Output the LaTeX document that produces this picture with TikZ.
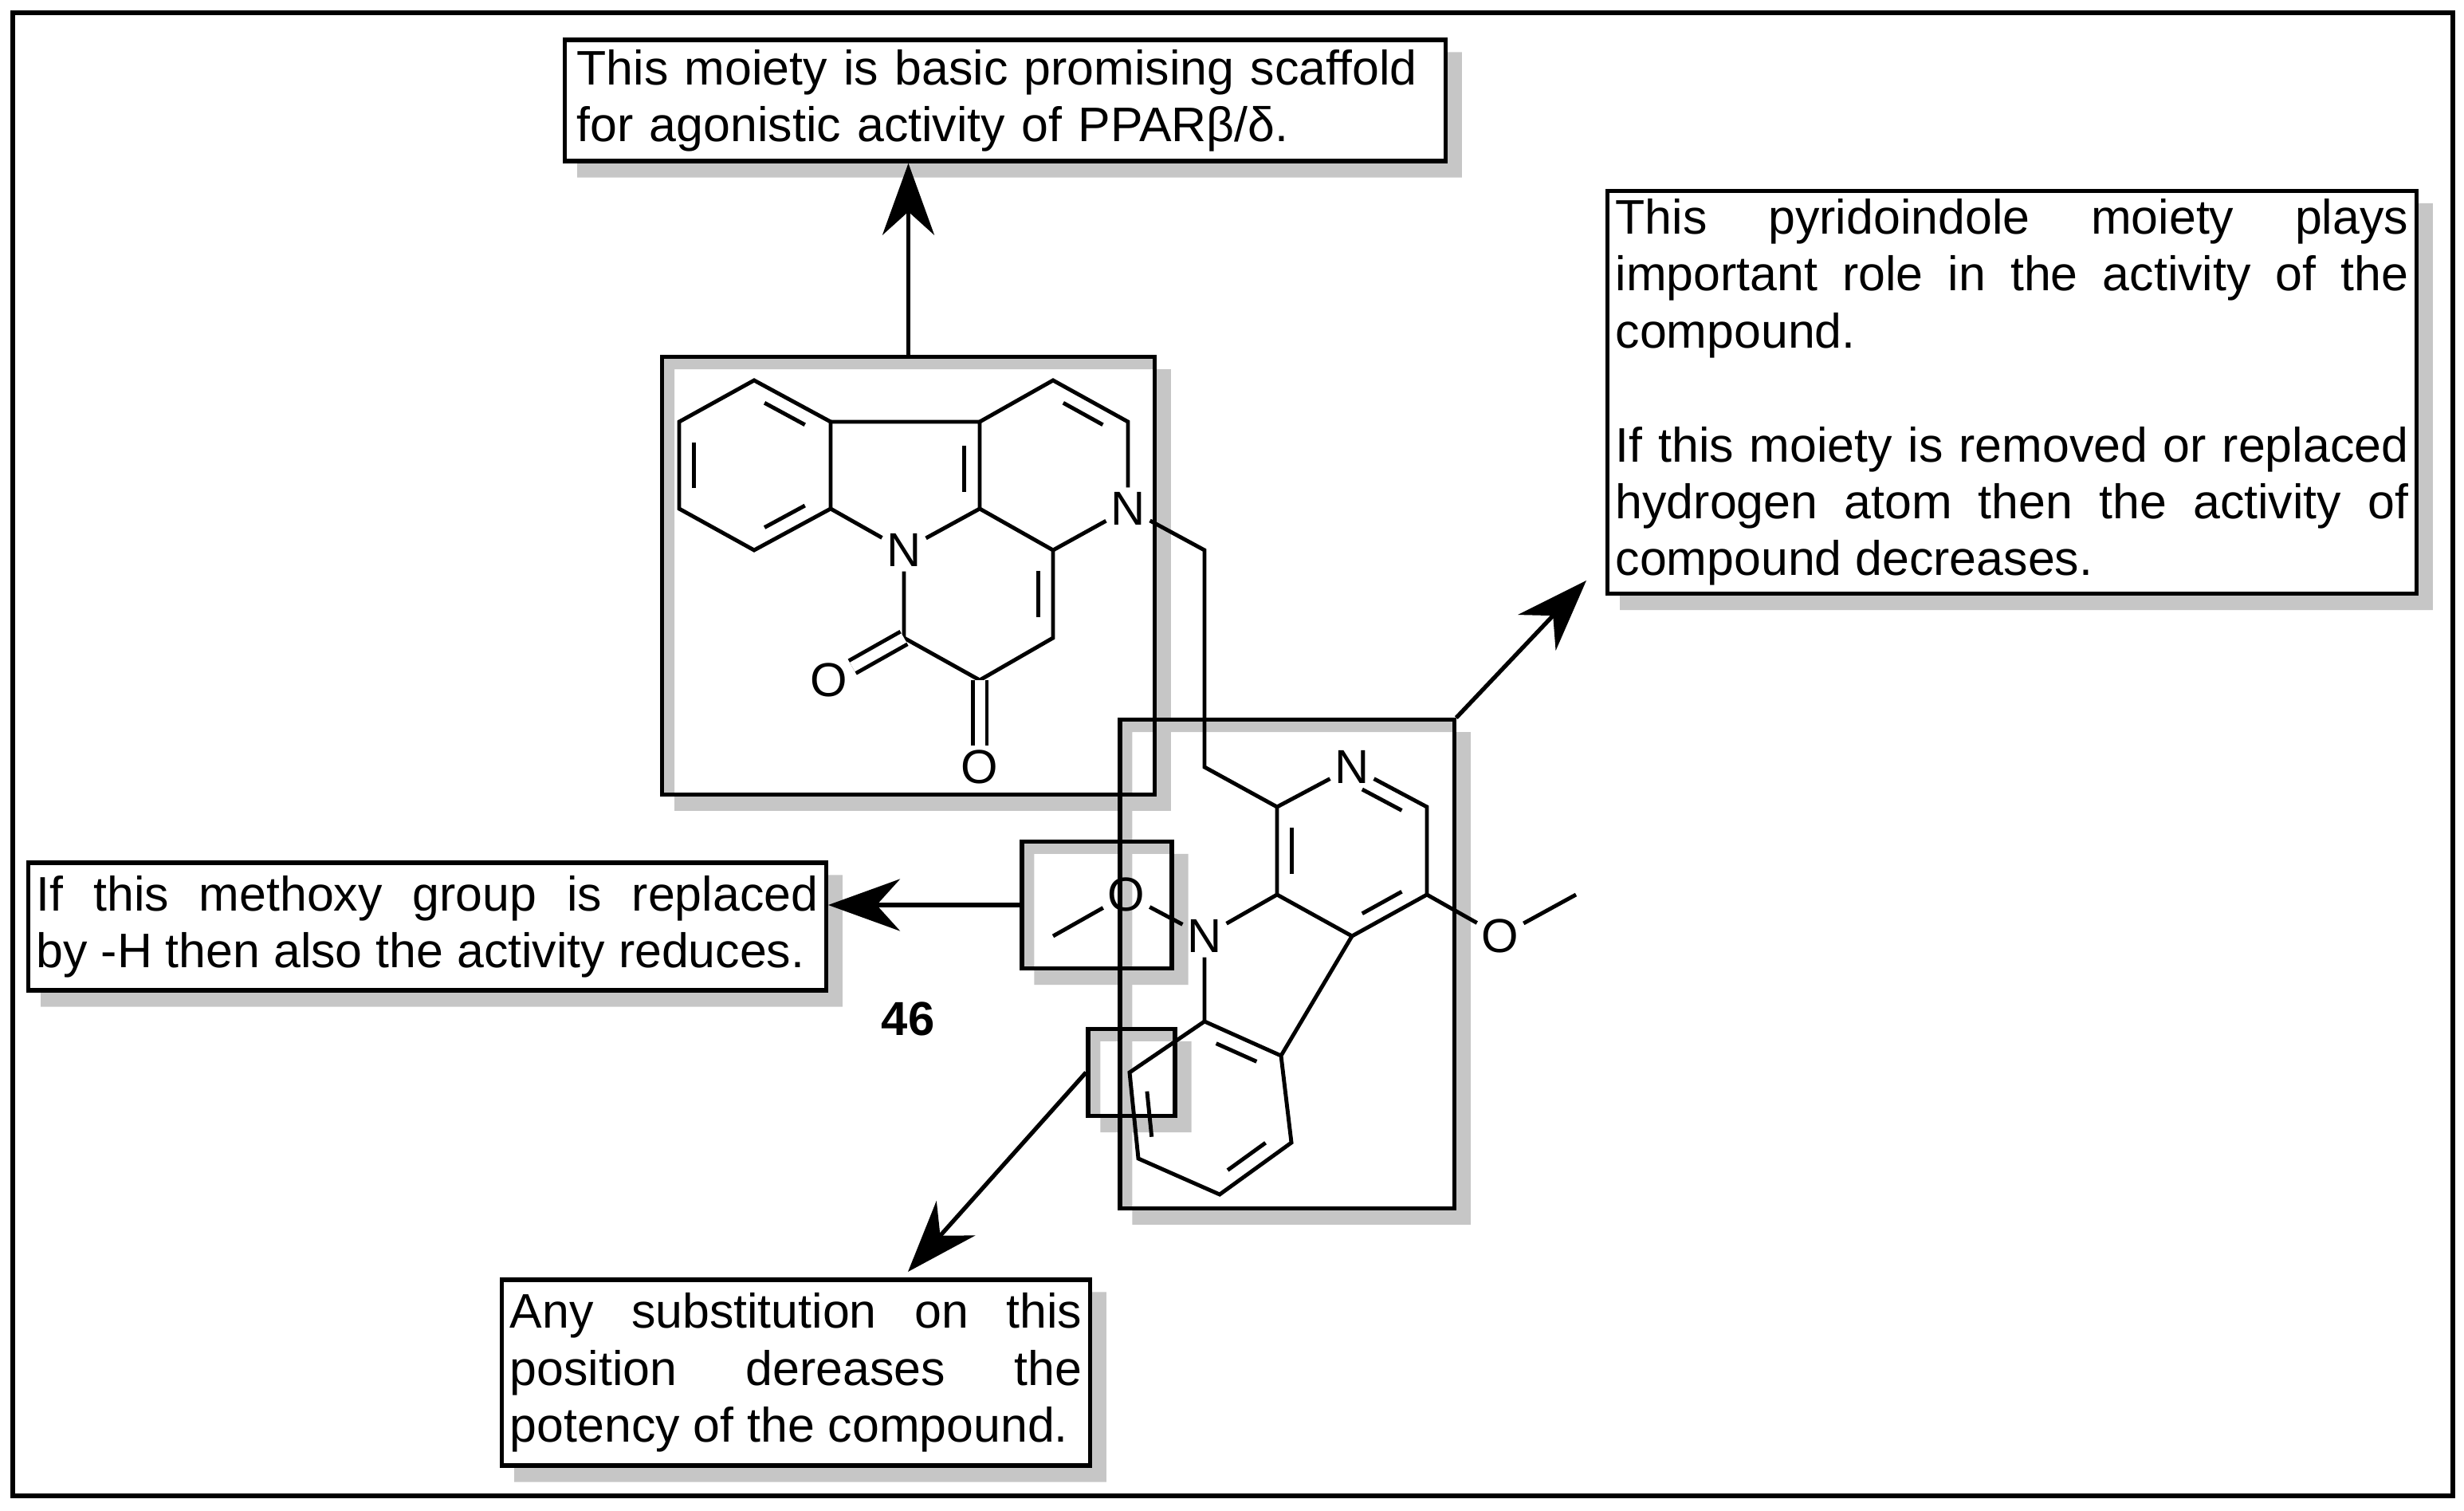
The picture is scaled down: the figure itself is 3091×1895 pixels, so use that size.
\documentclass[tikz,border=0pt]{standalone}
\usepackage{fontspec}
\setmainfont{Liberation Sans}
\usetikzlibrary{arrows.meta,calc,backgrounds}
\hyphenpenalty=10000
\exhyphenpenalty=10000
\tikzset{>/.tip={Stealth[length=0.9cm,width=0.65cm]}}
\tikzset{
  bond/.style={line width=1.4pt},
  dbl/.style={line width=1.4pt,double,double distance=0.13cm},
  atom/.style={inner sep=1.5pt,font=\fontsize{17}{20}\selectfont},
  frame/.style={draw,line width=1.5pt,inner sep=0pt},
  note/.style={draw,fill=white,line width=1.5pt,inner sep=0.1cm,
    font=\fontsize{17.3}{20.3}\selectfont,align=justify},
}
% inner line of a double bond, pulled towards the ring centre
\newcommand\innerbond[3]{\draw[bond] ($($(#1)!.17!(#2)$)!.2!(#3)$) -- ($($(#2)!.17!(#1)$)!.2!(#3)$);}
\newcommand\boxshadow[1]{\fill[gray!45,even odd rule] ([shift={(18,18)}]#1.north west) rectangle ([shift={(18,18)}]#1.south east) (#1.north west) rectangle (#1.south east);}

\begin{document}
\begin{tikzpicture}[x=0.01cm,y=-0.01cm]
\useasboundingbox (0,0) rectangle (3091,1895);
\draw[line width=1.5pt] (16,16) rectangle (3077,1876);

% tetracyclic part
\coordinate (a1) at (946,477);
\coordinate (a2) at (1042,529);
\coordinate (a3) at (1042,638);
\coordinate (a4) at (946,690);
\coordinate (a5) at (852,638);
\coordinate (a6) at (852,529);
\node[atom] (n1) at (1134,690) {N};
\coordinate (c1) at (1229,638);
\coordinate (c2) at (1229,529);
\coordinate (c3) at (1321,477);
\coordinate (c4) at (1415,529);
\node[atom] (n2) at (1415,638) {N};
\coordinate (c5) at (1321,690);
\coordinate (c6) at (1321,800);
\coordinate (c7) at (1229,853);
\coordinate (c8) at (1134,800);
\node[atom] (o1) at (1040,853) {O};
\node[atom] (o2) at (1229,962) {O};

\draw[bond] (a1) -- (a2) -- (a3) -- (a4) -- (a5) -- (a6) -- cycle;
\draw[bond] (a3) -- (n1) -- (c1) -- (c2) -- (a2);
\draw[bond] (c2) -- (c3) -- (c4) -- (n2) -- (c5) -- (c1);
\draw[bond] (c5) -- (c6) -- (c7) -- (c8) -- (n1);
\draw[dbl] (c8) -- (o1);
\draw[dbl] (c7) -- (o2);
\innerbond{a1}{a2}{946,583}
\innerbond{a3}{a4}{946,583}
\innerbond{a5}{a6}{946,583}
\innerbond{c2}{c1}{1130,607}
\innerbond{c3}{c4}{1321,583}
\innerbond{c5}{c6}{1229,745}

% linker and pyridoindole
\coordinate (l1) at (1511,690);
\coordinate (l2) at (1511,962);
\coordinate (p1) at (1602,1012);
\node[atom] (n3) at (1696,962) {N};
\coordinate (p3) at (1790,1012);
\coordinate (p4) at (1790,1122);
\coordinate (p5) at (1696,1174);
\coordinate (p6) at (1602,1122);
\node[atom] (n4) at (1511,1174) {N};
\node[atom] (o3) at (1413,1122) {O};
\coordinate (m1) at (1321,1174);
\coordinate (b1) at (1511,1281);
\coordinate (b2) at (1607,1324);
\coordinate (b3) at (1620,1433);
\coordinate (b4) at (1530,1498);
\coordinate (b5) at (1428,1453);
\coordinate (b6) at (1417,1345);
\node[atom] (o4) at (1882,1174) {O};
\coordinate (m2) at (1977,1122);

\draw[bond] (n2) -- (l1) -- (l2) -- (p1);
\draw[bond] (p1) -- (n3) -- (p3) -- (p4) -- (p5) -- (p6) -- (p1);
\draw[bond] (p6) -- (n4) -- (o3) -- (m1);
\draw[bond] (n4) -- (b1) -- (b2) -- (b3) -- (b4) -- (b5) -- (b6) -- (b1);
\draw[bond] (b2) -- (p5);
\draw[bond] (p4) -- (o4) -- (m2);
\innerbond{n3}{p3}{1696,1068}
\innerbond{p4}{p5}{1696,1068}
\innerbond{p6}{p1}{1696,1068}
\innerbond{b1}{b2}{1519,1390}
\innerbond{b3}{b4}{1519,1390}
\innerbond{b5}{b6}{1519,1390}

\node[font=\fontsize{17}{20}\selectfont\bfseries] (label) at (1139,1278) {46};

% highlight frames
\node[frame,minimum width=6.17cm,minimum height=5.48cm] (box1) at (1139.5,722) {};
\node[frame,minimum width=4.19cm,minimum height=6.12cm] (box2) at (1614.5,1209) {};
\node[frame,minimum width=1.88cm,minimum height=1.59cm] (box3) at (1376,1135) {};
\node[frame,minimum width=1.09cm,minimum height=1.09cm] (box4) at (1419.5,1345) {};

% notes
\node[note,align=left,inner xsep=0.15cm,text width=10.74cm,minimum height=1.52cm] (topnote) at (1261,126)
  {This moiety is basic promising scaffold\\for agonistic activity of PPARβ/δ.};
\node[note,text width=9.94cm,minimum height=5.01cm] (rightnote) at (2524,492)
  {This pyridoindole moiety plays important role in the activity of the compound.\par\vspace{20.3pt}
   If this moiety is removed or replaced hydrogen atom then the activity of compound decreases.};
\node[note,inner xsep=0.1cm,text width=9.8cm,minimum height=1.60cm] (leftnote) at (536,1162)
  {If this methoxy group is replaced\linebreak by -H then also the activity reduces.};
\node[note,text width=7.17cm,minimum height=2.33cm] (bottomnote) at (998.5,1721.5)
  {Any substitution on this position dereases the potency of the compound.};

\begin{pgfonlayer}{background}
\foreach \b in {box1,box2,box3,box4,topnote,rightnote,leftnote,bottomnote}
  {\boxshadow{\b}}
\end{pgfonlayer}

\coordinate (tip2) at (1990,728);
\coordinate (tip4) at (1139,1595);
\draw[->,line width=1.5pt] (box1.north) -- (box1.north |- topnote.south);
\draw[->,line width=1.5pt] (box2.north east) -- (tip2);
\draw[->,line width=1.5pt] (box3.west) -- (leftnote.east |- box3.west);
\draw[->,line width=1.5pt] (box4.west) -- (tip4);
\end{tikzpicture}
\end{document}
